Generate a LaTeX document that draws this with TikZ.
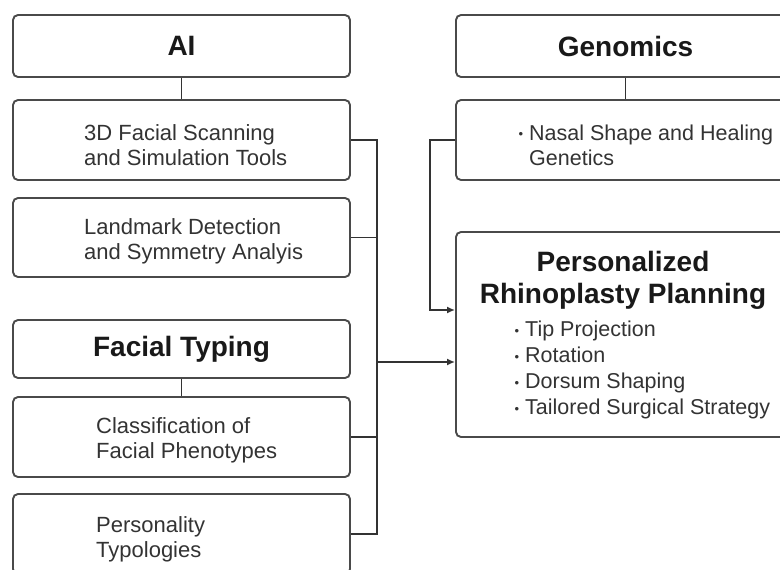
\documentclass[tikz,border=0pt]{standalone}
\usepackage{fontspec}
\setmainfont{Liberation Sans}
\usetikzlibrary{arrows.meta}

\definecolor{boxline}{HTML}{4A4A4A}
\definecolor{bodytext}{HTML}{333333}

% small bullet hung left of a list line
\newcommand{\dotitem}{\llap{\raisebox{1.5pt}{\fontsize{13}{13}\selectfont\textbullet}\hspace{6pt}}}

\begin{document}
\begin{tikzpicture}[
		x = 1pt, y = -1pt,
		box/.style = {draw = boxline, line width = 1.9pt, rounded corners = 5pt,
			minimum width = 337pt, inner sep = 0pt, fill = white},
		head/.style = {font = \fontsize{28}{32}\selectfont\bfseries, text = black!90},
		body/.style = {font = \fontsize{22}{25}\selectfont, text = bodytext,
			align = left, anchor = west, inner sep = 0pt},
		link/.style = {draw = black!80, line width = 1.8pt},
		arr/.style = {link, -{Latex[length = 8pt, width = 7pt]}}
		]
		\useasboundingbox (0,0) rectangle (780,570);
		\clip (0,0) rectangle (780,570);
		
		% left column
		\node[box, minimum height = 62pt, head] (ai) at (181.5,46) {AI};
		\node[box, minimum height = 80pt] (scan) at (181.5,140) {};
		\node[box, minimum height = 79pt] (landmark) at (181.5,237.5) {};
		\node[box, minimum height = 58pt, head] (typing) at (181.5,349) {Facial Typing};
		\node[box, minimum height = 80pt] (classes) at (181.5,437) {};
		\node[box, minimum height = 80pt] (persona) at (181.5,534) {};
		
		% right column
		\begin{scope}[box/.append style = {minimum width = 339pt}]
			\node[box, minimum height = 62pt, head] (genomics) at (625.5,46) {Genomics};
			\node[box, minimum height = 80pt] (nasal) at (625.5,140) {};
			\node[box, minimum height = 205pt] (plan) at (625.5,334.5) {};
		\end{scope}
		
		% Labels
		\node[body] (scan text) at (84,145) {3D Facial Scanning\\and Simulation Tools};
		\node[body] (landmark text) at (84,241) {Landmark Detection\\and Symmetry Analyis};
		\node[body] (classes text) at (96,440) {Classification of\\Facial Phenotypes};
		\node[body] (persona text) at (96,539) {Personality\\Typologies};
		\node[body, font = \fontsize{21.5}{25}\selectfont] (nasal text) at (529,145)
			{\dotitem Nasal Shape and Healing\\Genetics};
		\node[head, align = center, inner sep = 0pt] (plan title) at (623,280)
			{Personalized\\Rhinoplasty Planning};
		\node[body, font = \fontsize{21.5}{26}\selectfont] (plan list) at (525,370)
			{\dotitem Tip Projection\\\dotitem Rotation\\\dotitem Dorsum Shaping\\\dotitem Tailored Surgical Strategy};
		
		% connectors
		\coordinate (bus) at (377,0);
		\coordinate (join) at (377,362);
		\coordinate (gbend) at (430,0);
		\draw[link] (ai) -- (scan);
		\draw[link] (typing) -- (classes);
		\draw[link] (genomics) -- (nasal);
		\draw[link] (scan.east) -- (scan.east -| bus) -- (persona.east -| bus) -- (persona.east);
		\draw[link] (landmark.east) -- (landmark.east -| bus);
		\draw[link] (classes.east) -- (classes.east -| bus);
		\draw[arr] (join) -- (join -| plan.west);
		\draw[arr] (nasal.west) -- (nasal.west -| gbend) |- ([yshift = 24.5pt]plan.west);
	\end{tikzpicture}
\end{document}
